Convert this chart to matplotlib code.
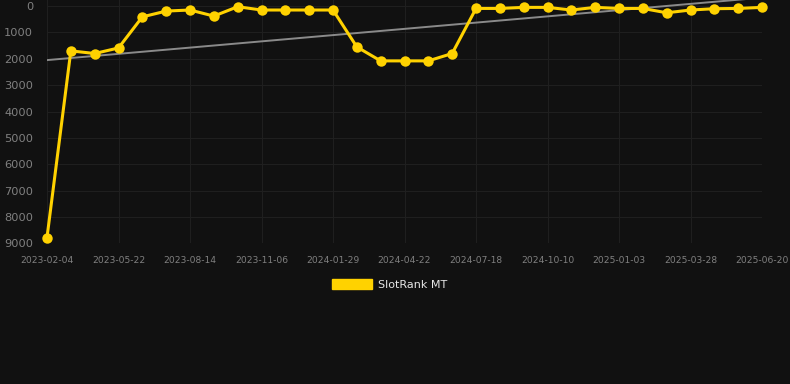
import numpy as np
import matplotlib
matplotlib.use('Agg')
import matplotlib.pyplot as plt
from matplotlib.patches import Patch

# rank values (lower = better), one per snapshot
ranks = [8780, 1700, 1800, 1590, 410, 190, 150, 380, 25, 150, 150, 150, 150,
         1550, 2080, 2080, 2080, 1800, 90, 90, 50, 50, 150, 50, 90, 90, 255,
         150, 100, 90, 50]
tick_labels = ['2023-02-04', '2023-05-22', '2023-08-14', '2023-11-06', '2024-01-29',
               '2024-04-22', '2024-07-18', '2024-10-10', '2025-01-03', '2025-03-28',
               '2025-06-20']
trend_start = 2050
trend_end = -320
series_name = 'SlotRank MT'

bg = '#111111'
gold = '#FFD200'

fig = plt.figure(figsize=(7.9, 3.84), dpi=100, facecolor=bg)
ax = fig.add_axes([47 / 790, 1 - 243.3 / 384, (762 - 47) / 790, 243.3 / 384])
ax.set_facecolor(bg)

x = np.arange(len(ranks))
ax.plot([x[0], x[-1]], [trend_start, trend_end], color='#8a8a8a', lw=1.4, zorder=2)
ax.plot(x, ranks, color=gold, lw=2.2, marker='o', markersize=7.5,
        markeredgewidth=0, zorder=3, clip_on=False)

ax.set_xlim(0, len(ranks) - 1)
ax.set_ylim(9000, -230)
ax.set_yticks(np.arange(0, 9001, 1000))
ax.set_xticks(x[::3])
ax.set_xticklabels(tick_labels)

ax.grid(True, color='#1f1f1f', lw=0.8)
ax.set_axisbelow(True)
for s in ax.spines.values():
    s.set_visible(False)
ax.tick_params(axis='y', length=0, pad=10, labelsize=8.2, labelcolor='#808080')
ax.tick_params(axis='x', length=0, pad=9, labelsize=6.6, labelcolor='#808080')

leg = fig.legend(handles=[Patch(facecolor=gold, edgecolor=gold, label=series_name)],
                 loc='center', bbox_to_anchor=(0.4935, 1 - 284.5 / 384), frameon=False,
                 handlelength=3.6, handleheight=1.0, handletextpad=0.5,
                 fontsize=8, labelcolor='#e6e6e6')

fig.savefig('out.png', dpi=100, facecolor=bg)
